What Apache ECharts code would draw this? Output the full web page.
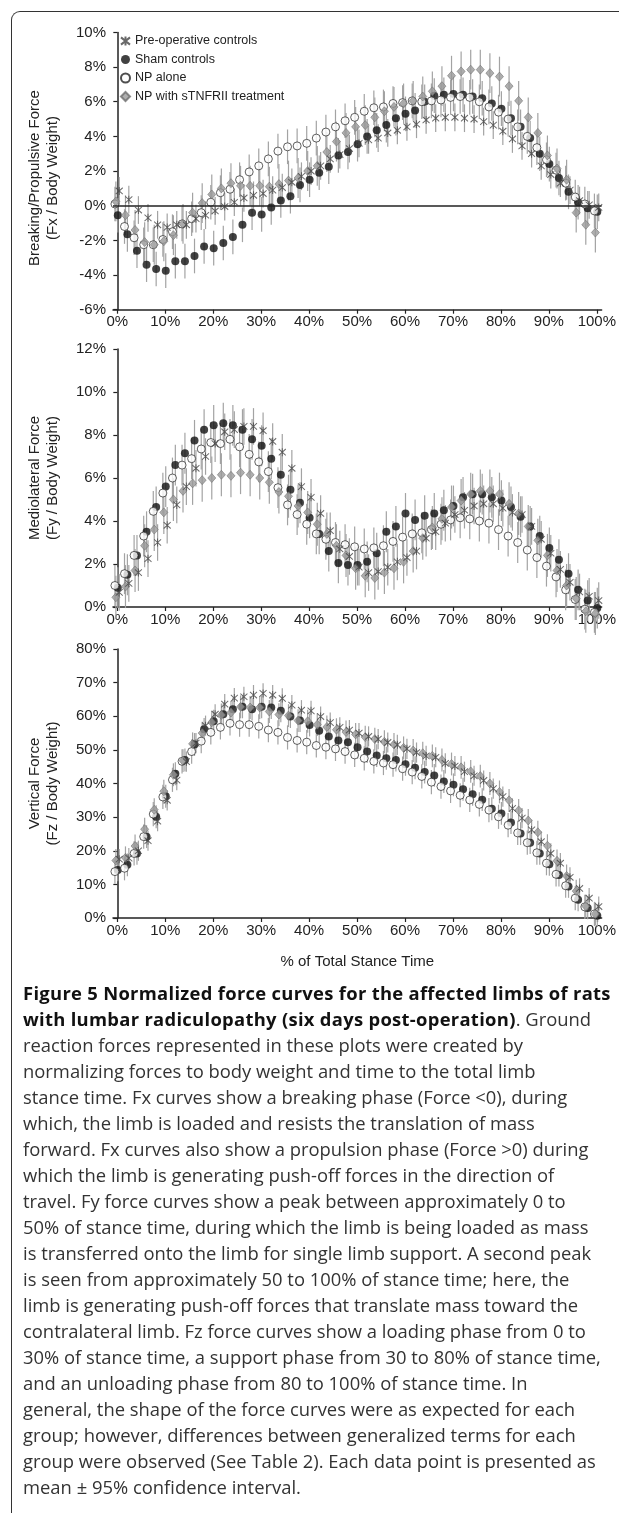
<!DOCTYPE html>
<html>
<head>
<meta charset="utf-8">
<script src="https://cdn.jsdelivr.net/npm/echarts@6/dist/echarts.min.js"></script>
<style>
    body {margin: 0; background: #fff; width: 619px; height: 1513px; overflow: hidden; position: relative;}
    #frame {position: absolute; left: 11px; top: 11px; width: 700px; height: 1600px;
        border-top: 1.5px solid #333; border-left: 1.5px solid #333; border-top-left-radius: 9px;}
    #chart {position: absolute; left: 0; top: 0; width: 619px; height: 985px;}
    #caption {position: absolute; left: 23px; top: 980px; font-family: "Open Sans", sans-serif;
        font-size: 18.4px; line-height: 26px; color: #333; white-space: nowrap;}
    #caption b {color: #111; letter-spacing: 0.3px;}
</style>
</head>
<body>
<div id="frame"></div>
<div id="chart"></div>
<div id="caption">
    <div><b>Figure 5 Normalized force curves for the affected limbs of rats</b></div>
    <div><b>with lumbar radiculopathy (six days post-operation)</b>. Ground</div>
    <div>reaction forces represented in these plots were created by</div>
    <div>normalizing forces to body weight and time to the total limb</div>
    <div>stance time. Fx curves show a breaking phase (Force &lt;0), during</div>
    <div>which, the limb is loaded and resists the translation of mass</div>
    <div>forward. Fx curves also show a propulsion phase (Force &gt;0) during</div>
    <div>which the limb is generating push-off forces in the direction of</div>
    <div>travel. Fy force curves show a peak between approximately 0 to</div>
    <div>50% of stance time, during which the limb is being loaded as mass</div>
    <div>is transferred onto the limb for single limb support. A second peak</div>
    <div>is seen from approximately 50 to 100% of stance time; here, the</div>
    <div>limb is generating push-off forces that translate mass toward the</div>
    <div>contralateral limb. Fz force curves show a loading phase from 0 to</div>
    <div>30% of stance time, a support phase from 30 to 80% of stance time,</div>
    <div>and an unloading phase from 80 to 100% of stance time. In</div>
    <div>general, the shape of the force curves were as expected for each</div>
    <div>group; however, differences between generalized terms for each</div>
    <div>group were observed (See Table 2). Each data point is presented as</div>
    <div>mean ± 95% confidence interval.</div>
</div>
<script>
    //data..................................
    var groups = ['Pre-operative controls', 'Sham controls', 'NP alone', 'NP with sTNFRII treatment'];
    var pct = [0, 2, 4, 6, 8, 10, 12, 14, 16, 18, 20, 22, 24, 26, 28, 30, 32, 34, 36, 38, 40, 42, 44, 46, 48, 50,
        52, 54, 56, 58, 60, 62, 64, 66, 68, 70, 72, 74, 76, 78, 80, 82, 84, 86, 88, 90, 92, 94, 96, 98, 100];
    var xTicks = [0, 10, 20, 30, 40, 50, 60, 70, 80, 90, 100];

    //Fx 前后力
    var fxPre = [0.85, 0.35, -0.25, -0.7, -1.1, -1.25, -1.1, -1.1, -0.75, -0.55, -0.3, -0.05, 0.2, 0.45, 0.6, 0.7, 0.9, 1.05, 1.35, 1.7, 2.0, 2.3, 2.7, 2.95, 3.3, 3.6, 3.8, 3.9, 4.2, 4.35, 4.55, 4.7, 4.95, 5.05, 5.1, 5.1, 5.05, 5.0, 4.85, 4.65, 4.3, 3.85, 3.45, 3.0, 2.3, 1.8, 1.3, 0.9, 0.3, 0.05, -0.1];
    var fxSham = [-0.55, -1.65, -2.6, -3.4, -3.65, -3.75, -3.2, -3.2, -2.9, -2.35, -2.45, -2.15, -1.8, -1.1, -0.4, -0.5, -0.1, 0.3, 0.55, 1.2, 1.5, 1.9, 2.25, 2.9, 3.1, 3.55, 4.0, 4.35, 4.65, 5.05, 5.3, 5.5, 6.0, 6.35, 6.4, 6.45, 6.4, 6.3, 6.2, 5.9, 5.6, 5.05, 4.55, 3.9, 3.0, 2.4, 1.6, 0.8, 0.2, -0.15, -0.35];
    var fxNP = [0.1, -1.2, -1.85, -2.25, -2.25, -1.95, -1.5, -1.05, -0.75, -0.4, 0.2, 0.75, 0.95, 1.5, 1.95, 2.3, 2.7, 3.15, 3.4, 3.45, 3.6, 3.9, 4.25, 4.55, 4.9, 5.1, 5.45, 5.65, 5.7, 5.9, 5.95, 6.05, 6.0, 6.05, 6.1, 6.25, 6.3, 6.25, 6.0, 5.7, 5.4, 5.0, 4.55, 4.0, 3.35, 2.65, 2.05, 1.3, 0.5, 0.1, -0.3];
    var fxTnf = [0.25, -0.55, -1.4, -2.1, -2.25, -2.05, -1.7, -1.05, -0.4, 0.15, 0.65, 1.0, 1.3, 1.15, 1.15, 1.15, 1.1, 1.25, 1.45, 1.6, 2.0, 2.3, 3.1, 3.7, 4.2, 4.55, 4.65, 5.1, 5.45, 5.7, 5.9, 6.05, 6.3, 6.6, 6.9, 7.5, 7.75, 7.85, 7.85, 7.65, 7.45, 6.9, 6.05, 5.1, 4.2, 2.9, 2.15, 1.5, -0.4, -1.1, -1.55];
    var fxErr = [0.8, 1.0, 1.0, 1.15];//95% CI 半宽

    //Fy 内外侧力
    var fyPre = [0.68, 1.1, 1.6, 2.25, 3.0, 3.8, 4.75, 5.6, 6.45, 7.0, 7.6, 8.15, 8.25, 8.4, 8.4, 8.2, 7.7, 7.2, 6.45, 5.6, 5.1, 4.35, 3.55, 2.7, 2.35, 1.85, 1.6, 1.65, 1.85, 2.1, 2.3, 2.6, 3.2, 3.5, 3.9, 4.3, 4.5, 4.7, 4.8, 4.8, 4.6, 4.4, 4.3, 3.75, 3.15, 2.5, 1.75, 1.15, 0.7, 0.5, 0.3];
    var fySham = [0.9, 1.5, 2.4, 3.5, 4.65, 5.6, 6.6, 7.15, 7.75, 8.25, 8.45, 8.55, 8.45, 8.25, 7.8, 7.5, 6.9, 6.15, 5.45, 4.85, 4.15, 3.4, 2.6, 2.05, 1.95, 1.95, 2.1, 2.5, 3.5, 3.75, 4.35, 4.05, 4.25, 4.35, 4.5, 4.7, 5.1, 5.25, 5.25, 5.1, 4.95, 4.65, 4.2, 3.75, 3.3, 2.75, 2.2, 1.55, 0.8, 0.3, -0.05];
    var fyNP = [1.0, 1.55, 2.4, 3.3, 4.45, 5.3, 6.0, 6.6, 6.9, 7.35, 7.65, 7.6, 7.8, 7.45, 7.1, 6.75, 6.3, 5.55, 4.75, 4.3, 3.85, 3.4, 3.15, 3.0, 2.9, 2.8, 2.7, 2.75, 2.85, 3.05, 3.25, 3.4, 3.45, 3.6, 3.85, 4.05, 4.15, 4.1, 4.0, 3.9, 3.6, 3.3, 3.0, 2.65, 2.3, 1.9, 1.4, 0.8, 0.35, -0.1, -0.25];
    var fyTnf = [0.45, 0.95, 1.7, 2.85, 3.6, 4.4, 5.0, 5.4, 5.75, 5.9, 6.0, 6.15, 6.1, 6.25, 6.15, 6.0, 5.8, 5.35, 5.15, 4.7, 4.4, 3.85, 3.4, 2.85, 2.4, 1.8, 1.45, 1.35, 1.6, 1.8, 2.1, 2.6, 3.2, 3.7, 4.1, 4.65, 4.95, 5.25, 5.4, 5.4, 5.25, 4.8, 4.35, 3.75, 3.1, 2.4, 1.7, 1.0, 0.4, -0.2, -0.3];
    var fyErr = [0.85, 0.95, 0.95, 1.0];

    //Fz 垂直力
    var fzPre = [17.5, 17.8, 20.0, 23.0, 28.8, 35.0, 41.0, 46.5, 52.0, 57.2, 60.6, 63.6, 65.4, 65.8, 66.3, 66.8, 66.3, 65.3, 63.3, 61.8, 61.6, 59.9, 58.1, 56.7, 55.9, 55.0, 54.0, 53.2, 52.2, 51.5, 50.3, 49.2, 48.2, 47.8, 46.0, 45.2, 43.5, 42.3, 40.9, 38.5, 36.1, 32.6, 29.7, 26.2, 22.7, 19.2, 16.3, 12.1, 8.8, 5.9, 3.4];
    var fzSham = [14.3, 15.8, 19.2, 24.2, 30.1, 36.2, 42.9, 47.0, 51.6, 56.1, 58.5, 60.6, 62.1, 62.8, 62.1, 62.8, 62.6, 61.6, 59.9, 58.7, 57.4, 55.7, 54.0, 52.8, 52.3, 50.8, 49.5, 48.3, 47.5, 47.0, 45.7, 44.7, 43.4, 42.4, 40.6, 39.6, 38.3, 36.8, 35.2, 32.5, 31.1, 28.4, 25.1, 22.4, 19.2, 16.0, 12.8, 9.4, 5.4, 3.0, 0.7];
    var fzNP = [13.8, 14.8, 19.2, 24.2, 30.9, 36.0, 41.1, 46.6, 49.5, 52.6, 55.2, 56.7, 57.9, 57.5, 57.5, 57.0, 55.9, 55.2, 53.7, 52.8, 52.3, 51.3, 50.8, 50.3, 49.5, 48.5, 47.5, 46.6, 46.1, 45.6, 44.4, 43.4, 42.1, 40.4, 39.1, 37.8, 36.5, 35.1, 33.8, 32.1, 30.1, 27.6, 25.3, 22.4, 19.4, 16.3, 13.0, 9.6, 5.9, 3.3, 1.2];
    var fzTnf = [17.1, 17.9, 21.4, 26.4, 32.2, 37.7, 42.6, 46.8, 51.8, 55.0, 58.2, 60.4, 61.1, 62.8, 62.6, 62.6, 61.4, 60.5, 60.2, 58.7, 58.5, 57.5, 56.8, 56.0, 55.3, 54.6, 53.8, 53.2, 52.4, 51.6, 50.6, 49.8, 49.0, 48.2, 47.0, 45.8, 44.8, 43.6, 42.2, 40.0, 37.5, 35.0, 32.0, 29.0, 25.5, 21.5, 17.0, 12.5, 8.0, 3.5, 1.2];
    var fzErr = [3.0, 3.4, 3.6, 3.4];

    var yTitles = ['Breaking/Propulsive Force\n(Fx / Body Weight)', 'Mediolateral Force\n(Fy / Body Weight)', 'Vertical Force\n(Fz / Body Weight)'];
    var yMin = [-6, 0, 0];
    var yMax = [10, 12, 80];
    var yStep = [2, 2, 10];

    //styles.................................
    var dodge = [0.4, 0.1, -0.5, -0.3];//各组横向错开一点
    var markers = [
        {symbol: 'path://M5,0L5,10M0,1L10,9M0,9L10,1', size: [7, 8], z: 5,
            style: {color: 'rgba(0,0,0,0)', borderColor: '#444', borderWidth: 1}},
        {symbol: 'circle', size: 8, z: 2, style: {color: '#111'}},
        {symbol: 'circle', size: 8, z: 3, style: {color: '#fff', borderColor: '#222', borderWidth: 0.9}},
        {symbol: 'diamond', size: [8, 9], z: 4, style: {color: '#9a9a9a', borderColor: '#6e6e6e', borderWidth: 0.7}}
    ];
    var ink = '#222';
    var font = 'Liberation Sans, Arial, sans-serif';

    var panels = [
        {vals: [fxPre, fxSham, fxNP, fxTnf], err: fxErr, top: 32.4, height: 277.3},
        {vals: [fyPre, fySham, fyNP, fyTnf], err: fyErr, top: 349, height: 258},
        {vals: [fzPre, fzSham, fzNP, fzTnf], err: fzErr, top: 649, height: 269}
    ];

    //误差线
    function errBar(params, api) {
        var hi = api.coord([api.value(0), api.value(2)]);
        var lo = api.coord([api.value(0), api.value(1)]);
        return {
            type: 'line',
            shape: {x1: hi[0], y1: hi[1], x2: lo[0], y2: lo[1]},
            style: {stroke: '#a3a3a3', lineWidth: 1.2}
        };
    }

    var grids = [], xAxes = [], yAxes = [], series = [];
    for (var p = 0; p < panels.length; p++) {
        grids.push({left: 113, top: panels[p].top, width: 493, height: panels[p].height});
        xAxes.push({
            type: 'value', gridIndex: p, min: -0.9, max: 101,
            axisLine: {onZero: false, lineStyle: {color: ink, width: 1.5}},
            axisTick: {show: true, length: 4, customValues: xTicks, lineStyle: {color: ink, width: 1.2}},
            axisLabel: {customValues: xTicks, formatter: '{value}%', fontSize: 15, color: ink, margin: 5, fontFamily: font},
            splitLine: {show: false},
            name: p === 2 ? '% of Total Stance Time' : '',
            nameLocation: 'middle', nameGap: 36,
            nameTextStyle: {fontSize: 15, color: ink, fontFamily: font}
        });
        yAxes.push({
            type: 'value', gridIndex: p, min: yMin[p], max: yMax[p], interval: yStep[p],
            axisLine: {show: true, lineStyle: {color: ink, width: 1.5}},
            axisTick: {show: true, length: 4, lineStyle: {color: ink, width: 1.2}},
            axisLabel: {formatter: '{value}%', fontSize: 15, color: ink, margin: 7, fontFamily: font},
            splitLine: {show: false},
            name: yTitles[p], nameLocation: 'middle', nameRotate: 90, nameGap: 51,
            nameTextStyle: {fontSize: 15, lineHeight: 18, color: ink, fontFamily: font,
                padding: p === 0 ? [0, 14, 0, 0] : 0}
        });

        for (var g = 0; g < groups.length; g++) {
            var pts = [], bars = [];
            var v = panels[p].vals[g], e = panels[p].err[g];
            for (var i = 0; i < pct.length; i++) {
                pts.push([pct[i] + dodge[g], v[i]]);
                bars.push([pct[i] + dodge[g], v[i] - e, v[i] + e]);
            }
            series.push({
                name: 'ci' + p + g, type: 'custom', xAxisIndex: p, yAxisIndex: p, z: 1,
                renderItem: errBar, encode: {x: 0, y: [1, 2]}, data: bars, silent: true
            });
            var s = {
                name: groups[g], type: 'scatter', xAxisIndex: p, yAxisIndex: p, z: markers[g].z,
                symbol: markers[g].symbol, symbolSize: markers[g].size,
                itemStyle: markers[g].style, clip: false, data: pts
            };
            //零线
            if (p === 0 && g === 1) {
                s.markLine = {
                    silent: true, symbol: ['none', 'none'], label: {show: false},
                    lineStyle: {color: ink, width: 1.5, type: 'solid'},
                    data: [{yAxis: 0}]
                };
            }
            series.push(s);
        }
    }

    var chart = echarts.init(document.getElementById('chart'));
    chart.setOption({
        animation: false,
        textStyle: {fontFamily: font},
        legend: {
            data: groups, orient: 'vertical', left: 115, top: 29.5,
            itemWidth: 9, itemHeight: 9, itemGap: 5.5,
            textStyle: {fontSize: 12.5, color: ink, fontFamily: font}
        },
        grid: grids,
        xAxis: xAxes,
        yAxis: yAxes,
        series: series
    });
</script>
</body>
</html>
